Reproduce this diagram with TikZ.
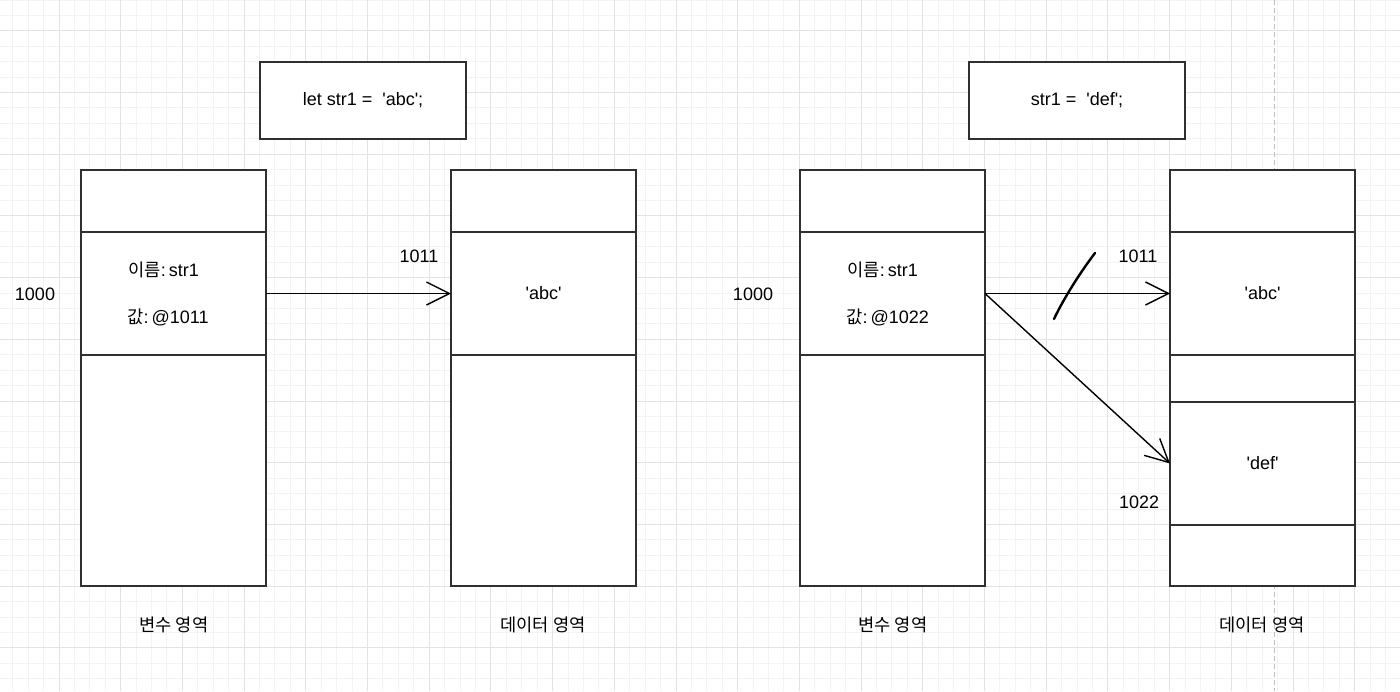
\documentclass[tikz,border=0pt]{standalone}
\usepackage{fontspec}
\setmainfont{Liberation Sans}
\newfontfamily\kr{Noto Sans CJK KR}[Scale=0.98]
\usetikzlibrary{arrows.meta,positioning}
\definecolor{boxline}{HTML}{303030}
\definecolor{minorline}{HTML}{F3F3F3}
\definecolor{majorline}{HTML}{E3E3E3}
\definecolor{pageline}{HTML}{BDBDBD}
\newcommand{\sq}{\textquotesingle}
\tikzstyle{cell}=[draw=boxline,line width=1pt,fill=white,minimum width=92.5pt,inner sep=0pt,outer sep=0pt]
\tikzstyle{codebox}=[cell,minimum height=38.5pt]
\tikzstyle{txt}=[inner sep=0pt]
\tikzstyle{pointer}=[draw,line width=0.7pt,-{Straight Barb[length=11.5pt,width=11.5pt]}]
\tikzstyle{slash}=[draw,line width=1.2pt,line cap=round]

\begin{document}
\begin{tikzpicture}[x=0.5pt,y=-0.5pt,every node/.style={font=\fontsize{9}{11}\selectfont}]
    \useasboundingbox (0,0) rectangle (1400,691);
    % Background grid and page break line
    \begin{scope}
        \clip (0,0) rectangle (1400,691);
        \fill[white] (0,0) rectangle (1400,691);
        \foreach \i in {0,...,91}
            \draw[minorline,line width=0.5pt] ({-2.7+15.425*\i},0) -- ({-2.7+15.425*\i},691);
        \foreach \i in {0,...,45}
            \draw[minorline,line width=0.5pt] (0,{15.425*\i}) -- (1400,{15.425*\i});
        \foreach \j in {0,...,23}
            \draw[majorline,line width=0.5pt] ({-2.7+61.7*\j},0) -- ({-2.7+61.7*\j},691);
        \foreach \j in {-1,...,10}
            \draw[majorline,line width=0.5pt] (0,{30.8+61.7*\j}) -- (1400,{30.8+61.7*\j});
        \draw[pageline,line width=0.5pt,dash pattern=on 2.5pt off 1.5pt] (1274,0) -- (1274,691);
    \end{scope}

    % Code boxes
    \node[codebox,minimum width=103pt] (codeA) at (363,100.5) {let str1 =\ \ \sq abc\sq;};
    \node[codebox,minimum width=108pt] (codeB) at (1077,100.5) {str1 =\ \ \sq def\sq;};

    % Memory cells: variable area and data area
    \foreach \pos/\hgt/\name in {{(173.5,201)/31/varAtop}, {(173.5,293.5)/61.5/varAmid}, {(173.5,470.5)/115.5/varAbot},
        {(543.5,201)/31/datAtop}, {(543.5,293.5)/61.5/datAabc}, {(543.5,470.5)/115.5/datAbot},
        {(892.5,201)/31/varBtop}, {(892.5,293.5)/61.5/varBmid}, {(892.5,470.5)/115.5/varBbot},
        {(1262.5,201)/31/datBtop}, {(1262.5,293.5)/61.5/datBabc}, {(1262.5,378.5)/23.5/datBgap},
        {(1262.5,463.5)/61.5/datBdef}, {(1262.5,555.5)/30.5/datBbot}}
        \node[cell,minimum height=\hgt pt] (\name) at \pos {};

    % Cell contents
    \node at (datAabc) {\sq abc\sq};
    \node at (datBabc) {\sq abc\sq};
    \node at (datBdef) {\sq def\sq};
    \node[txt,anchor=west] (nameA) at (128,270) {{\kr 이름}:\,str1};
    \node[txt,anchor=west] (valA) at (127,317) {{\kr 값}:\,@1011};
    \node[txt,anchor=west] (nameB) at (847,270) {{\kr 이름}:\,str1};
    \node[txt,anchor=west] (valB) at (846,317) {{\kr 값}:\,@1022};

    % Addresses and area names
    \foreach \pos/\name/\text in {{(35,294)/adrA/1000}, {(419,256)/adrB/1011}, {(753,294)/adrC/1000},
        {(1138,256)/adrD/1011}, {(1139,502)/adrE/1022},
        {(174,625)/areaA/{\kr 변수 영역}}, {(543,625)/areaB/{\kr 데이터 영역}},
        {(893,625)/areaC/{\kr 변수 영역}}, {(1262,625)/areaD/{\kr 데이터 영역}}}
        \node[txt] (\name) at \pos {\text};

    % Pointers
    \path[pointer] (varAmid.east) -- (datAabc.west);
    \path[pointer] (varBmid.east) -- (datBabc.west);
    \path[pointer] (varBmid.east) -- (datBdef.west);

    % Cut mark on the old pointer
    \coordinate (cutA) at (1054,319);
    \coordinate (cutB) at (1095,253);
    \path[slash] (cutA) .. controls (1061,304) and (1076,278) .. (cutB);
\end{tikzpicture}
\end{document}
